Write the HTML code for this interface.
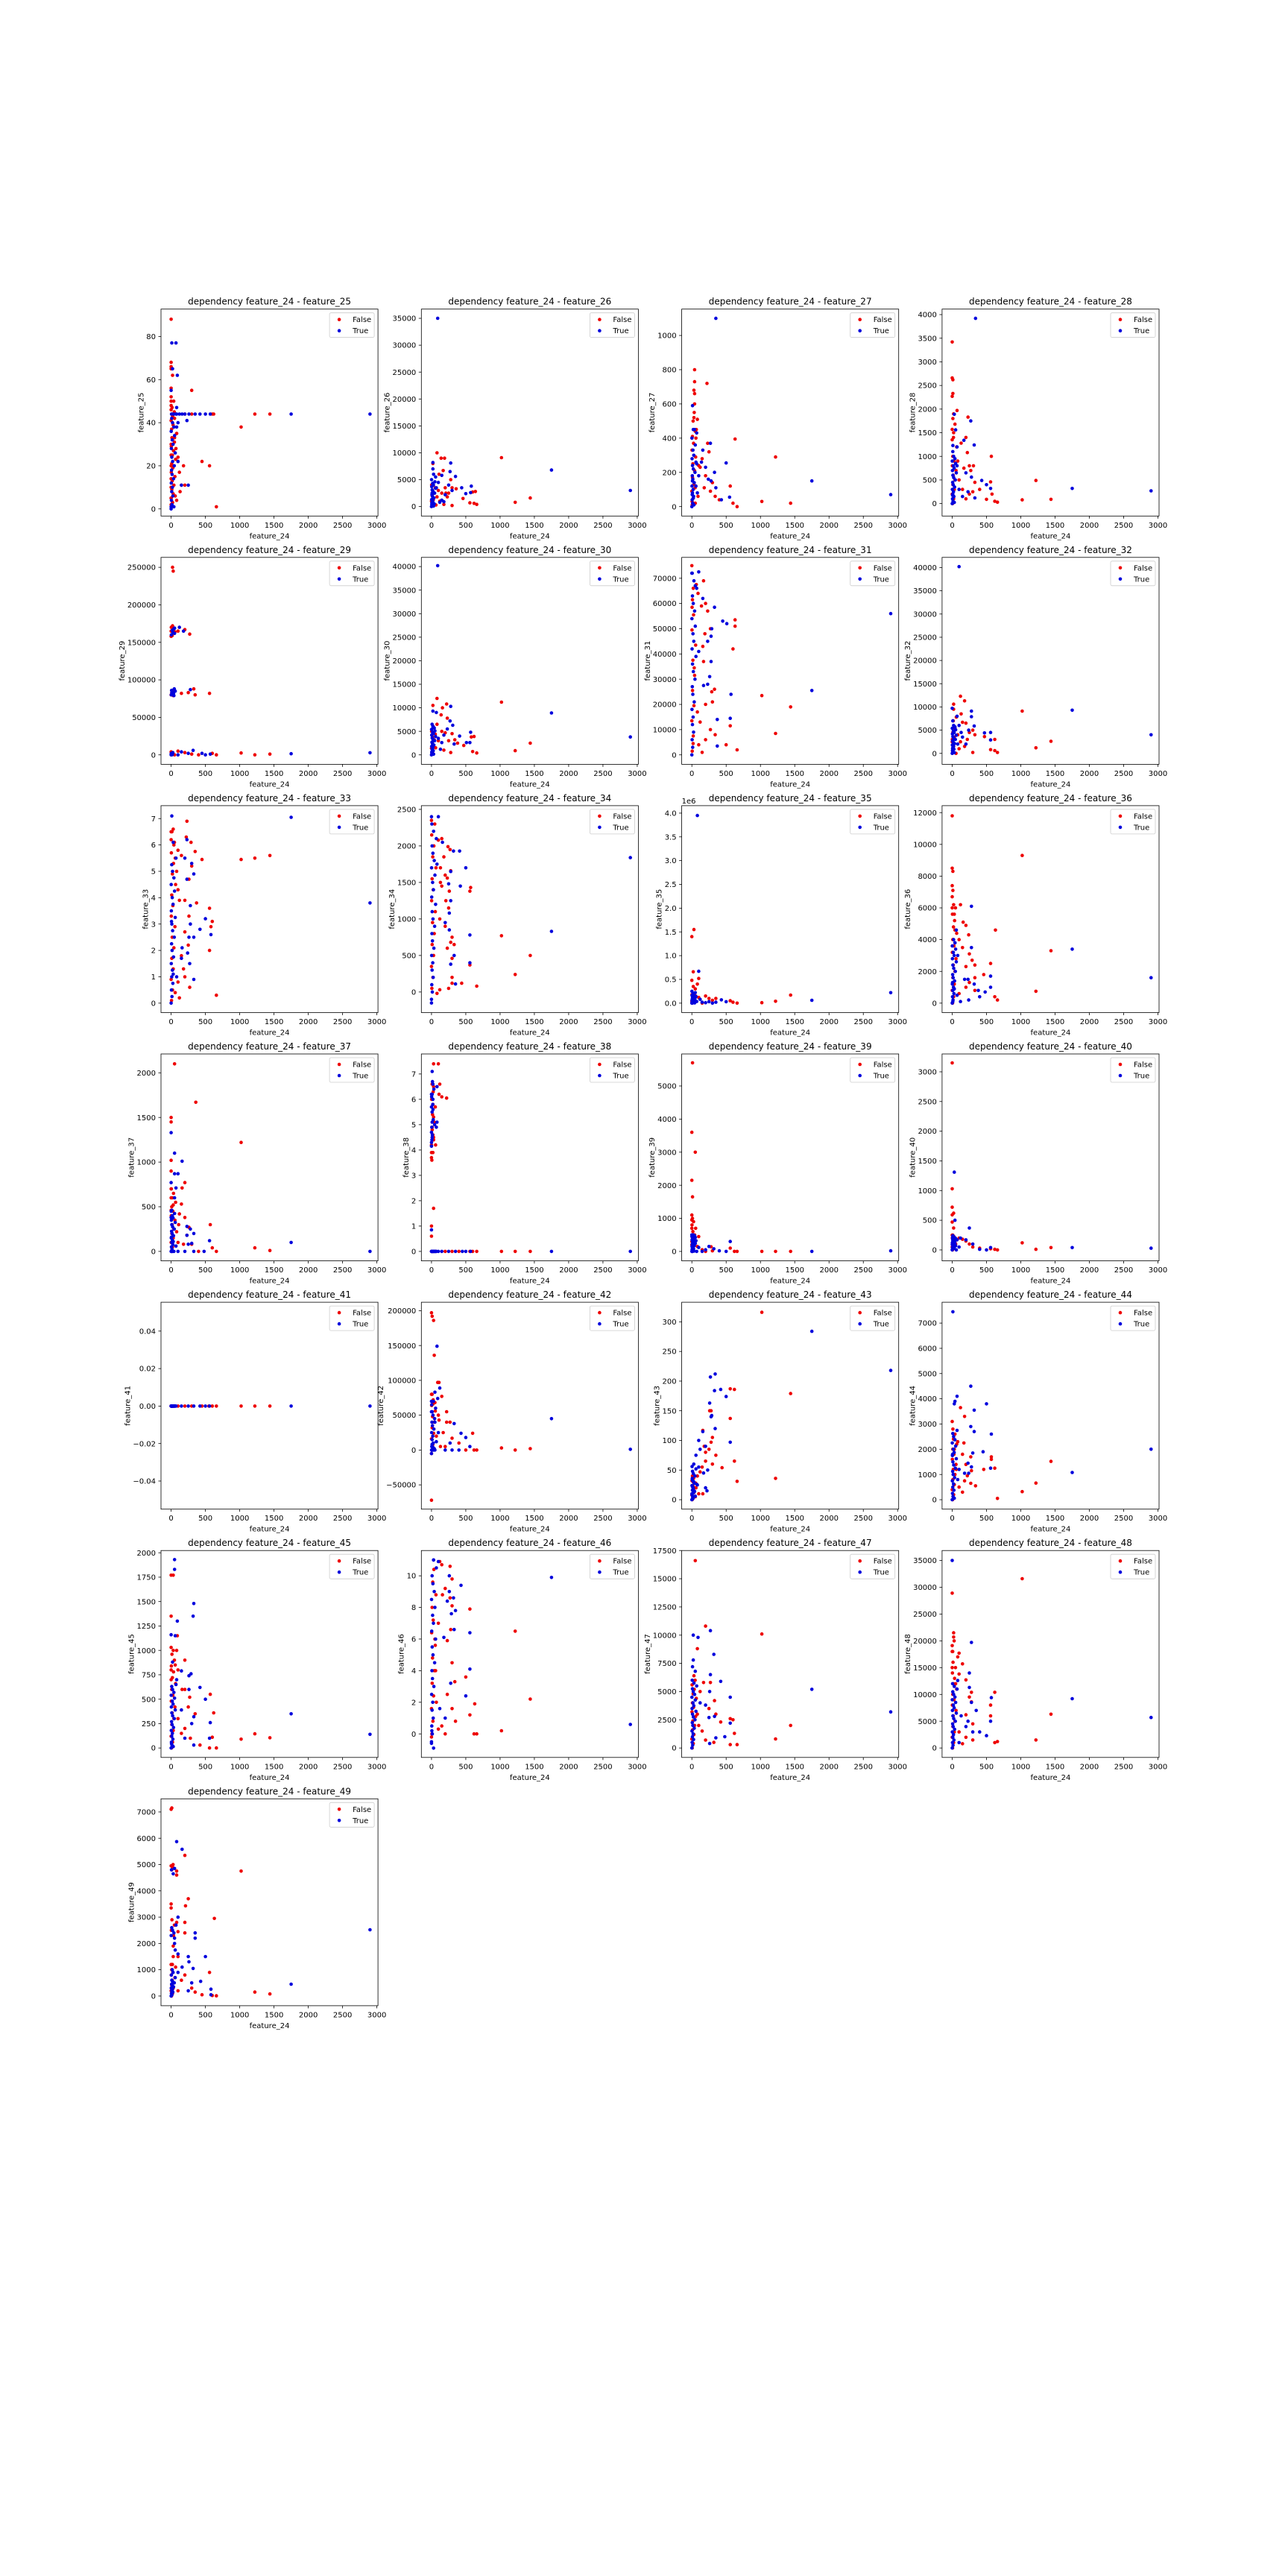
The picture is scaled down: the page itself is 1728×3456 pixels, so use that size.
<!DOCTYPE html>
<html><head><meta charset="utf-8"><title>dependency plots</title>
<style>html,body{margin:0;padding:0;background:#fff}svg{display:block}text{font-family:"DejaVu Sans","Liberation Sans",sans-serif;fill:#000}</style>
</head><body>
<svg id="fig" xmlns="http://www.w3.org/2000/svg" width="1728" height="3456" viewBox="0 0 1728 3456">
<rect width="1728" height="3456" fill="#fff"/>
</svg>
<script>
// ---- data (x = feature_24, y = feature_N), False = red, True = blue ----
const xTicks=[0,500,1000,1500,2000,2500,3000];
// x values of the dense low-feature_24 column
const colXTrue=[0,12,4,25,8,18,2,35,14,6,45,22,10,60,3,28,16,50,1,40,20,9,70,30,5];
const colXFalse=[5,20,0,30,10,40,15,55,2,25,8,65,18,35,3,48,12,80,7,28,0,22,45,14,38];
const f25False=[[0,88],[0,68],[0,66],[0,65],[0,56],[0,52],[0,50],[0,48],[0,46],[10,44],[200,44],[300,44],[600,44],[620,44],[1220,44],[1440,44],[1020,38],[300,55],[450,22],[560,20],[660,1],[50,42],[80,35],[100,24],[120,17],[150,11],[200,11],[130,8],[80,4],[60,6],[0,30],[0,25],[0,20],[0,14],[0,10],[0,5],[0,2],[20,62],[100,22],[180,20],[50,33],[70,28]];
const f25True=[[10,77],[70,77],[20,65],[90,62],[0,55],[80,47],[350,44],[420,44],[500,44],[570,44],[1750,44],[2900,44],[230,41],[100,40],[80,38],[250,11],[40,1],[0,1],[40,44],[80,44],[120,44],[160,44],[200,44],[260,44],[100,22],[150,11]];
const f25ColF=[1,3,5,7,9,11,13,15,17,19,21,23,25,27,29,31,33,35,37,39,41,43,45,47,50];
const f25ColT=[0,2,4,6,8,10,12,14,16,18,20,22,24,26,28,30,32,34,36,38,40,42,44,44,44];
const f26False=[[80,10000],[140,9000],[190,9000],[1020,9100],[1220,800],[1440,1600],[20,8000],[170,6700],[110,6000],[280,5000],[300,3500],[360,3300],[560,700],[620,600],[660,400],[600,2700],[640,2800],[460,1500],[200,3500],[150,2500],[230,1800],[250,2500],[100,3000],[120,1000],[300,200],[180,400],[210,2500],[80,1800]];
const f26True=[[90,35000],[1750,6800],[2900,3000],[20,8200],[280,8100],[20,7000],[30,6000],[150,5800],[270,6500],[350,5600],[580,3800],[440,3500],[500,2400],[570,2600],[250,4000],[300,3000],[100,4500],[60,5500],[120,800],[150,1200],[200,2200],[180,900]];
const f26ColF=[100,500,1000,1500,2000,2500,3000,3500,4000,1200,2200,300,700];
const f26ColT=[0,200,400,600,800,1000,1300,1600,1900,2200,2500,2800,3100,3400,3700,4000,4300,4600,5000,500,1500,2500,3500,100,700];
const f27False=[[40,800],[40,730],[220,720],[30,680],[40,660],[40,600],[30,520],[80,510],[50,440],[60,400],[630,395],[230,370],[1220,290],[560,120],[1020,30],[1440,20],[660,0],[600,20],[400,40],[300,140],[200,180],[100,240],[150,280],[250,320],[120,230],[180,110],[90,60],[50,20],[270,90],[340,60]];
const f27True=[[350,1100],[1750,150],[2900,70],[10,590],[20,450],[70,430],[270,370],[160,330],[500,255],[330,200],[350,110],[430,40],[550,55],[240,160],[100,180],[60,120],[80,80],[140,260],[200,230],[280,150]];
const f27ColF=[10,50,90,130,170,210,250,290,330,370,410,450,500,550,30,110];
const f27ColT=[0,20,40,60,80,100,120,140,160,180,200,220,240,260,280,300,330,360,400,450,50,150,250,10,70];
const f28False=[[0,3420],[0,2660],[10,2620],[10,2330],[0,2270],[70,1970],[20,1900],[10,1800],[230,1830],[40,1680],[0,1570],[20,1500],[200,1400],[0,1350],[130,1280],[220,1080],[570,1000],[250,800],[270,700],[310,800],[330,450],[560,460],[580,200],[1220,490],[1020,80],[1440,90],[660,30],[620,50],[500,90],[300,250],[150,300],[200,100],[100,500],[80,900],[250,200],[400,300],[170,750]];
const f28True=[[340,3920],[30,1890],[270,1750],[50,1560],[170,1340],[320,1240],[10,1230],[70,800],[200,650],[280,560],[430,490],[500,400],[560,320],[1750,320],[2900,270],[330,120],[100,300],[150,150],[230,250]];
const f28ColF=[0,100,200,300,400,500,600,700,800,900,1000,1200,1400];
const f28ColT=[0,50,100,150,200,250,300,350,400,450,500,550,600,650,700,750,800,850,900,950,1000,1100,1200,25,175];
const f29False=[[20,250000],[30,245000],[20,172000],[0,165000],[100,165000],[200,167000],[270,161000],[0,158000],[0,80000],[20,85000],[150,82000],[250,83000],[330,88000],[350,80000],[560,82000],[1020,2500],[1220,0],[1440,1000],[660,0],[600,2000],[300,1000],[200,3000],[100,5000],[50,0],[400,0]];
const f29True=[[40,168000],[120,170000],[180,165000],[50,162000],[280,87000],[1750,1500],[2900,2800],[320,6000],[150,4000],[500,0],[450,2000],[570,1000],[100,0],[250,2000]];
const f29ColF=[0,2000,4000,79000,83000,87000,159000,164000,170000];
const f29ColT=[0,1000,2000,3000,0,500,80000,82000,84000,86000,88000,81000,83000,85000,160000,163000,166000,169000,1500,79000];
const f30False=[[80,12000],[20,10500],[220,10800],[160,10000],[1020,11200],[140,8500],[230,7800],[1440,2500],[1220,900],[600,700],[660,400],[620,3900],[580,3800],[470,2000],[300,4500],[340,3200],[250,3000],[200,4700],[150,5000],[100,3000],[60,1500],[280,500],[180,1000],[380,2500],[80,6500]];
const f30True=[[90,40200],[1750,8900],[2900,3800],[20,9300],[280,10300],[270,7200],[310,6300],[230,5500],[180,4200],[410,4000],[570,4800],[560,2600],[510,2600],[330,2300],[100,3500],[130,1200],[150,2600]];
const f30ColF=[200,800,1400,2000,2600,3200,3800,4400,5000,6000];
const f30ColT=[0,300,600,900,1200,1500,1800,2100,2400,2700,3000,3300,3600,3900,4200,4500,4800,5100,5400,5700,6000,6500,9000,150,450];
const f31False=[[0,75000],[170,69000],[20,66000],[90,64000],[140,59000],[200,60000],[230,57000],[630,53500],[630,51000],[270,50000],[190,48000],[600,42000],[160,43000],[170,37000],[330,26000],[290,25000],[1020,23500],[1440,19000],[300,21000],[200,20000],[1220,8500],[560,11500],[660,2000],[500,4000],[340,8000],[270,10000],[120,13000],[80,17000],[100,4000],[150,1000],[200,6000]];
const f31True=[[0,72000],[100,72500],[50,67000],[160,62000],[330,58500],[450,53000],[510,52000],[290,50000],[280,47000],[230,45000],[100,41000],[280,37000],[260,31000],[230,28000],[170,27500],[570,24000],[1750,25500],[2900,56000],[370,14000],[560,14500],[370,3500]];
const f31ColF=[1500,7500,13500,19500,25500,31500,37500,43500,49500,55500,61500,67500,4500,34500,58500];
const f31ColT=[0,3000,6000,9000,12000,15000,18000,21000,24000,27000,30000,33000,36000,39000,42000,45000,48000,51000,54000,57000,60000,63000,66000,69000,72000];
const f32False=[[120,12300],[180,11300],[20,10600],[20,9500],[1020,9100],[130,8500],[60,7800],[150,6700],[200,6500],[300,5000],[250,4500],[330,4000],[470,3600],[620,3000],[1440,2600],[1220,1200],[560,800],[620,600],[660,200],[300,200],[180,1500],[120,2500],[80,4000],[100,1000],[220,3000]];
const f32True=[[100,40200],[1750,9300],[2900,4000],[0,9700],[280,9100],[280,7900],[320,5900],[240,5000],[470,4400],[560,4500],[560,2900],[100,6000],[150,3500],[200,2000],[80,2000],[130,4500]];
const f32ColF=[500,1500,2500,3500,4500,5500,7000,0,3000];
const f32ColT=[0,300,600,900,1200,1500,1800,2100,2400,2700,3000,3300,3600,3900,4200,4500,4800,5100,5400,5700,6000,7000,8000,150,1000];
const f33False=[[0,6.5],[30,6.6],[230,6.9],[0,6.2],[40,6.0],[100,5.8],[220,6.3],[290,6.1],[150,5.6],[60,5.5],[450,5.45],[1020,5.45],[1220,5.5],[1440,5.6],[300,5.2],[350,5.75],[260,4.7],[80,5.0],[100,4.3],[120,3.9],[200,3.9],[370,3.8],[560,3.6],[600,3.1],[580,2.9],[260,3.3],[200,2.7],[250,2.2],[560,2.0],[150,1.8],[180,1.3],[200,1.0],[100,0.8],[270,0.6],[120,0.2],[660,0.3],[60,0.4]];
const f33True=[[10,7.1],[1750,7.05],[2900,3.8],[230,6.2],[30,6.1],[200,5.5],[300,5.3],[330,4.9],[230,4.7],[280,3.7],[500,3.2],[280,3.0],[420,2.8],[580,2.6],[330,2.5],[260,2.5],[160,2.1],[240,1.9],[150,1.7],[270,1.5],[330,0.9],[80,1.0]];
const f33ColF=[0.1,0.5,0.9,1.3,1.7,2.1,2.5,2.9,3.3,3.7,4.1,4.5,4.9,5.3,5.7,6.1,6.5];
const f33ColT=[0,0.25,0.5,0.75,1,1.25,1.5,1.75,2,2.25,2.5,2.75,3,3.25,3.5,3.75,4,4.25,4.5,4.75,5,5.25,5.5,1.1,3.1];
const f34False=[[0,2350],[150,2100],[100,2080],[240,1990],[270,1950],[180,1850],[130,1700],[280,1660],[200,1600],[230,1560],[130,1500],[150,1450],[570,1430],[560,1380],[260,1380],[210,1250],[250,1150],[120,1000],[200,900],[300,750],[1020,770],[280,680],[330,650],[230,600],[1440,500],[300,460],[560,370],[1220,240],[300,200],[440,120],[660,80],[300,120],[250,50],[120,30],[80,-20]];
const f34True=[[0,2400],[100,2400],[160,2050],[320,1930],[410,1930],[2900,1840],[500,1700],[280,1650],[250,1480],[420,1450],[280,1250],[260,1080],[200,950],[260,850],[560,780],[1750,830],[330,500],[280,380],[560,400],[350,110],[0,-150],[80,1750]];
const f34ColF=[50,200,350,500,650,800,950,1100,1250,1400,1550,1700,1850,2000,2150,2300];
const f34ColT=[-100,0,100,200,300,400,500,600,700,800,900,1000,1100,1200,1300,1400,1500,1600,1700,1800,1900,2000,2100,2200,2300];
const f35False=[[30,1.55e6],[0,1.4e6],[20,0.66e6],[100,0.52e6],[80,0.4e6],[0,0.48e6],[20,0.35e6],[50,0.3e6],[200,0.15e6],[250,0.1e6],[300,0.06e6],[350,0.1e6],[560,0.05e6],[600,0.02e6],[660,0],[1020,0.01e6],[1220,0.04e6],[1440,0.17e6],[150,0],[100,0.12e6]];
const f35True=[[80,3.95e6],[100,0.67e6],[150,0.02e6],[200,0.01e6],[250,0.03e6],[300,0],[430,0.07e6],[500,0.03e6],[1750,0.06e6],[2900,0.22e6],[350,0.02e6],[120,0.08e6]];
const f35ColF=[0,20000,40000,60000,80000,100000,120000,150000,180000,200000];
const f35ColT=[0,10000,20000,30000,40000,50000,60000,70000,80000,90000,100000,110000,120000,140000,160000,180000,200000,220000,250000,5000,15000,25000,35000,45000,0];
const f36False=[[0,11800],[1020,9300],[0,8500],[10,8300],[0,7400],[10,7100],[0,6700],[20,6200],[0,6000],[120,6200],[30,5600],[160,5100],[200,4900],[40,4600],[630,4600],[240,4300],[100,4000],[150,3500],[250,3100],[290,2700],[1440,3300],[330,2400],[200,2300],[560,2500],[460,1800],[330,1600],[250,1300],[200,1000],[1220,750],[620,400],[660,200],[330,800],[100,600]];
const f36True=[[280,6100],[60,4600],[40,3800],[280,3500],[80,3000],[1750,3400],[560,1700],[2900,1600],[230,1500],[180,1500],[320,1200],[560,1000],[480,700],[380,800],[400,400],[240,200],[120,100]];
const f36ColF=[0,400,800,1200,1600,2000,2400,2800,3200,3600,4000,4400,4800,5200,5600,6000];
const f36ColT=[0,200,400,600,800,1000,1200,1400,1600,1800,2000,2200,2400,2600,2800,3000,3200,3400,3600,3800,4000,100,500,900,1300];
const f37False=[[50,2100],[360,1670],[0,1500],[0,1450],[1020,1220],[0,1020],[0,900],[200,770],[160,710],[0,700],[0,600],[30,520],[150,530],[0,460],[120,420],[200,380],[110,300],[570,300],[260,270],[80,220],[230,180],[300,80],[1220,40],[1440,10],[600,40],[660,0],[180,80],[100,100],[400,0]];
const f37True=[[0,1330],[50,1100],[160,1010],[50,870],[100,870],[0,770],[70,710],[50,600],[10,460],[0,380],[230,280],[280,250],[330,200],[230,180],[560,120],[1750,100],[300,90],[250,80],[2900,0],[480,0],[330,0],[200,0],[100,0]];
const f37ColF=[0,50,100,150,200,250,300,350,400,450,500,550,600,650,700];
const f37ColT=[0,25,50,75,100,125,150,175,200,225,250,275,300,325,350,375,400,425,450,0,0,0,60,110,160];
const f38False=[[30,7.4],[100,7.4],[120,6.6],[110,6.2],[150,6.1],[220,6.05],[30,6.5],[20,5.8],[30,5.3],[10,4.9],[20,4.6],[30,4.4],[60,4.2],[0,3.9],[0,3.7],[30,1.7],[0,1.0],[0,0.6],[0,0],[200,0],[300,0],[600,0],[660,0],[1020,0],[1220,0],[1440,0],[560,0],[400,0]];
const f38True=[[10,7.1],[20,6.6],[80,6.5],[0,6.2],[20,6.0],[0,5.7],[10,5.1],[80,5.1],[70,4.9],[0,4.7],[10,4.5],[0,4.15],[0,0.85],[0,0],[50,0],[100,0],[150,0],[250,0],[350,0],[450,0],[500,0],[570,0],[1750,0],[2900,0]];
const f38ColF=[3.6,3.9,4.2,4.5,4.8,5.1,5.4,5.7,6.0,6.3,6.6,0,0,0];
const f38ColT=[4.3,4.6,4.9,5.2,5.5,5.8,6.1,6.4,6.7,4.4,5.0,5.6,6.2,0,0,0,0,0,0,0,0,0,0,0,0];
const f39False=[[10,5700],[0,3600],[50,3000],[0,2150],[10,1650],[0,1100],[0,950],[0,700],[100,450],[0,300],[280,140],[560,100],[660,0],[1020,0],[1220,0],[1440,0],[150,50],[80,150],[300,20],[620,0],[200,0]];
const f39True=[[0,500],[50,240],[100,120],[560,300],[250,150],[320,80],[400,20],[500,0],[1750,0],[2900,20],[150,0],[200,50]];
const f39ColF=[0,100,200,300,400,500,600,700,800,900,1000];
const f39ColT=[0,25,50,75,100,125,150,175,200,225,250,275,300,325,350,375,400,425,450,475,500,0,0,10,60];
const f40False=[[0,3150],[0,1030],[0,720],[20,620],[0,590],[0,470],[20,370],[0,250],[150,180],[200,150],[250,100],[300,50],[1020,120],[1220,10],[1440,40],[560,20],[620,10],[660,0],[400,30],[100,200],[50,100]];
const f40True=[[30,1310],[40,500],[250,370],[120,200],[200,170],[100,50],[300,100],[500,0],[560,40],[1750,40],[2900,30],[400,10]];
const f40ColF=[0,25,50,75,100,125,150,175,200,225,250];
const f40ColT=[0,20,40,60,80,100,120,140,160,180,200,220,240,0,10,30,50,70,90,110,130,150,170,190,210];
const f41False=[[0,0],[100,0],[200,0],[300,0],[450,0],[550,0],[600,0],[660,0],[1020,0],[1220,0],[1440,0]];
const f41True=[[0,0],[50,0],[150,0],[250,0],[330,0],[420,0],[500,0],[560,0],[1750,0],[2900,0]];
const f41ColF=[0,0,0,0,0,0,0,0,0,0];
const f41ColT=[0,0,0,0,0,0,0,0,0,0,0,0,0,0,0,0,0,0,0,0,0,0,0,0,0];
const f42False=[[0,197000],[10,192000],[30,186000],[40,136000],[90,97000],[110,97000],[0,80000],[150,77000],[50,68000],[20,66000],[220,55000],[100,50000],[110,43000],[220,40000],[270,40000],[170,25000],[300,17000],[600,24000],[1020,3000],[1220,0],[1440,2000],[620,0],[660,0],[500,0],[0,-72000],[0,-5000],[200,5000],[400,10000],[130,5000],[70,20000]];
const f42True=[[80,149000],[120,89000],[50,83000],[90,74000],[0,70000],[0,55000],[50,40000],[100,25000],[330,38000],[270,10000],[500,18000],[430,24000],[560,5000],[1750,45000],[2900,1000],[200,0],[300,0],[400,0]];
const f42ColF=[0,8000,16000,24000,32000,40000,48000,56000,64000,72000,80000];
const f42ColT=[-5000,0,5000,10000,15000,20000,25000,30000,35000,40000,45000,50000,55000,60000,65000,70000,0,0,0,2000,4000,8000,12000,0,0];
const f43False=[[1020,316],[1440,179],[560,187],[620,186],[280,150],[260,150],[560,137],[160,117],[300,105],[280,97],[180,90],[350,75],[200,65],[620,65],[150,55],[300,60],[440,54],[120,47],[1220,36],[660,31],[160,10],[100,10],[60,20],[20,30],[50,5],[80,40],[200,80],[250,85]];
const f43True=[[1750,284],[2900,218],[340,212],[270,207],[420,186],[330,184],[500,174],[260,163],[290,142],[280,140],[340,120],[160,115],[560,97],[100,100],[120,85],[60,75],[200,90],[100,55],[170,45],[230,50],[200,20],[220,15],[80,25]];
const f43ColF=[0,4,8,12,16,20,24,28,32,36,40];
const f43ColT=[0,4,8,12,16,20,24,28,32,36,40,44,48,52,56,60,2,6,10,14,18,22,26,30,34];
const f44False=[[0,3100],[10,2800],[120,3650],[180,3300],[40,2600],[80,2300],[170,2250],[30,2000],[150,1800],[270,1700],[570,1700],[570,1600],[200,1400],[280,1150],[460,1200],[620,1250],[1440,1520],[1220,660],[1020,320],[660,50],[340,550],[270,650],[180,750],[100,500],[150,300],[60,1200],[220,950]];
const f44True=[[10,7450],[270,4500],[70,4100],[40,3900],[30,3800],[500,3800],[320,3550],[270,2900],[320,2700],[570,2600],[450,1900],[300,1850],[230,1450],[280,1300],[1750,1080],[2900,2000],[560,1250],[240,1050],[180,1050],[80,800],[100,1200]];
const f44ColF=[0,200,400,600,800,1000,1200,1400,1600,1800,2000,2200,2400];
const f44ColT=[0,125,250,375,500,625,750,875,1000,1125,1250,1375,1500,1625,1750,1875,2000,2125,2250,2375,2500,2625,2750,60,1800];
const f45False=[[0,1770],[30,1770],[0,1350],[90,1150],[0,1030],[30,1000],[200,900],[60,850],[0,800],[100,800],[0,700],[160,600],[200,600],[270,520],[570,550],[620,360],[250,420],[350,350],[1220,145],[1020,90],[1440,105],[600,110],[560,0],[660,0],[420,30],[150,150],[100,300],[200,200],[280,100]];
const f45True=[[50,1930],[50,1830],[330,1480],[320,1350],[90,1300],[0,1160],[60,1150],[20,880],[150,790],[260,740],[290,760],[80,700],[420,620],[260,600],[500,500],[150,390],[330,320],[1750,350],[2900,140],[570,260],[300,250],[200,100],[560,100],[330,30]];
const f45ColF=[0,60,120,180,240,300,360,420,480,540,600,660,720,780,840,900,960,1000];
const f45ColT=[0,30,60,90,120,150,180,210,240,270,300,330,360,390,420,450,480,510,540,570,600,630,650,15,45];
const f46False=[[120,10.9],[150,10.7],[270,10.6],[300,9.8],[200,9.2],[160,8.8],[300,8.1],[560,7.9],[270,8.6],[100,7.0],[280,6.6],[1220,6.5],[230,5.9],[300,4.5],[500,3.6],[340,3.3],[230,2.5],[1440,2.2],[630,1.9],[300,1.6],[560,1.2],[350,0.8],[150,0.5],[200,0.0],[620,0.0],[660,0.0],[1020,0.2],[100,0.3],[0,-0.2],[70,2],[60,4],[50,6]];
const f46True=[[30,11],[100,10.9],[260,10],[1750,9.9],[430,9.4],[260,9.0],[320,8.6],[230,8.4],[350,7.8],[290,7.6],[330,6.6],[560,6.4],[180,6.1],[560,4.1],[280,3.2],[500,2.4],[120,1.6],[200,1.0],[2900,0.6],[0,-0.6],[30,-0.9]];
const f46ColF=[0,0.8,1.6,2.4,3.2,4.0,4.8,5.6,6.4,7.2,8.0,8.8,9.6,10.4];
const f46ColT=[-0.5,0,0.5,1,1.5,2,2.5,3,3.5,4,4.5,5,5.5,6,6.5,7,7.5,8,8.5,9,9.5,10,10.5,11,0.2];
const f47False=[[50,16600],[200,10800],[1020,10100],[80,8800],[30,6400],[170,5800],[270,5800],[120,5000],[330,4200],[250,3500],[350,3000],[600,2500],[560,2600],[420,2300],[1440,2000],[620,1300],[1220,800],[560,300],[660,300],[320,500],[100,2000],[150,1500],[200,700],[80,3000]];
const f47True=[[20,10000],[270,10400],[90,9800],[320,8300],[20,7800],[10,7200],[50,6800],[270,6500],[420,5900],[1750,5200],[2900,3200],[260,5000],[560,4500],[120,4000],[200,3800],[330,2800],[250,2700],[560,2200],[480,1000],[350,900],[260,400]];
const f47ColF=[0,400,800,1200,1600,2000,2400,2800,3200,3600,4000,4400,4800,5200,5600,6000];
const f47ColT=[0,250,500,750,1000,1250,1500,1750,2000,2250,2500,2750,3000,3250,3500,3750,4000,4250,4500,4750,5000,5250,5500,5750,6000];
const f48False=[[1020,31600],[0,28900],[20,21500],[20,20700],[0,19100],[0,18000],[100,17700],[150,15700],[0,15000],[100,13800],[200,12700],[280,10400],[250,9500],[560,8000],[620,10400],[280,8600],[560,6000],[1440,6300],[200,6200],[300,4500],[1220,1500],[620,1000],[660,1200],[200,2000],[300,1500],[100,3000],[150,800],[50,12000]];
const f48True=[[0,35000],[280,19700],[250,14000],[80,12600],[250,11300],[570,9400],[1750,9200],[280,8500],[560,5000],[2900,5700],[350,7000],[130,6000],[230,5000],[300,3000],[400,3000],[500,2300],[200,4000],[100,1000]];
const f48ColF=[0,1000,2000,3000,4000,5000,6000,7000,8000,9000,10000,11000,12000,13000,14000,15000,16000,17000,18000,20000];
const f48ColT=[0,500,1000,1500,2000,2500,3000,3500,4000,4500,5000,5500,6000,6500,7000,7500,8000,8500,9000,9500,10000,10500,11000,11500,12000];
const f49False=[[0,7100],[10,7150],[200,5350],[0,4950],[20,4900],[80,4750],[1020,4750],[250,3700],[0,3500],[0,3350],[210,3430],[630,2950],[200,2800],[80,2800],[200,2400],[100,2450],[30,1900],[30,1500],[100,1500],[0,1200],[560,900],[200,800],[150,600],[1220,150],[1440,80],[450,50],[600,20],[660,10],[300,300],[350,150],[100,200]];
const f49True=[[80,5870],[160,5580],[50,4850],[100,3000],[350,2400],[350,2200],[2900,2520],[50,2000],[60,1750],[100,1600],[250,1500],[500,1500],[260,1300],[320,1050],[160,1100],[1750,450],[430,560],[580,260],[580,50],[300,500],[250,200],[100,900]];
const f49ColF=[0,100,200,300,400,500,600,700,800,900,1000,1100,1200,2300,2500,2700,2900,4600,4800,5000];
const f49ColT=[0,50,100,150,200,250,300,350,400,450,500,550,600,700,800,900,1000,2200,2300,2400,2500,2600,2700,4650,4800];

// ---- per-plot y-axis config ----
const plots=[
{f:25,yl:[-3.3,92.7],yt:[0,20,40,60,80],d:0,F:f25False,T:f25True,CF:f25ColF,CT:f25ColT},
{f:26,yl:[-1755,36710],yt:[0,5000,10000,15000,20000,25000,30000,35000],d:0,F:f26False,T:f26True,CF:f26ColF,CT:f26ColT},
{f:27,yl:[-55,1154],yt:[0,200,400,600,800,1000],d:0,F:f27False,T:f27True,CF:f27ColF,CT:f27ColT},
{f:28,yl:[-263,4116],yt:[0,500,1000,1500,2000,2500,3000,3500,4000],d:0,F:f28False,T:f28True,CF:f28ColF,CT:f28ColT},
{f:29,yl:[-12580,263245],yt:[0,50000,100000,150000,200000,250000],d:0,F:f29False,T:f29True,CF:f29ColF,CT:f29ColT},
{f:30,yl:[-2005,41953],yt:[0,5000,10000,15000,20000,25000,30000,35000,40000],d:0,F:f30False,T:f30True,CF:f30ColF,CT:f30ColT},
{f:31,yl:[-3741,78270],yt:[0,10000,20000,30000,40000,50000,60000,70000],d:0,F:f31False,T:f31True,CF:f31ColF,CT:f31ColT},
{f:32,yl:[-2353,42193],yt:[0,5000,10000,15000,20000,25000,30000,35000,40000],d:0,F:f32False,T:f32True,CF:f32ColF,CT:f32ColT},
{f:33,yl:[-0.358,7.49],yt:[0,1,2,3,4,5,6,7],d:0,F:f33False,T:f33True,CF:f33ColF,CT:f33ColT},
{f:34,yl:[-282,2551],yt:[0,500,1000,1500,2000,2500],d:0,F:f34False,T:f34True,CF:f34ColF,CT:f34ColT},
{f:35,yl:[-198700,4157000],yt:[0,0.5e6,1e6,1.5e6,2e6,2.5e6,3e6,3.5e6,4e6],d:1,sc:1e6,F:f35False,T:f35True,CF:f35ColF,CT:f35ColT},
{f:36,yl:[-595,12438],yt:[0,2000,4000,6000,8000,10000,12000],d:0,F:f36False,T:f36True,CF:f36ColF,CT:f36ColT},
{f:37,yl:[-106,2211],yt:[0,500,1000,1500,2000],d:0,F:f37False,T:f37True,CF:f37ColF,CT:f37ColT},
{f:38,yl:[-0.373,7.79],yt:[0,1,2,3,4,5,6,7],d:0,F:f38False,T:f38True,CF:f38ColF,CT:f38ColT},
{f:39,yl:[-285,5968],yt:[0,1000,2000,3000,4000,5000],d:0,F:f39False,T:f39True,CF:f39ColF,CT:f39ColT},
{f:40,yl:[-184,3301],yt:[0,500,1000,1500,2000,2500,3000],d:0,F:f40False,T:f40True,CF:f40ColF,CT:f40ColT},
{f:41,yl:[-0.055,0.0554],yt:[-0.04,-0.02,0,0.02,0.04],d:2,F:f41False,T:f41True,CF:f41ColF,CT:f41ColT},
{f:42,yl:[-84850,212120],yt:[-50000,0,50000,100000,150000,200000],d:0,F:f42False,T:f42True,CF:f42ColF,CT:f42ColT},
{f:43,yl:[-15.9,333],yt:[0,50,100,150,200,250,300],d:0,F:f43False,T:f43True,CF:f43ColF,CT:f43ColT},
{f:44,yl:[-374,7827],yt:[0,1000,2000,3000,4000,5000,6000,7000],d:0,F:f44False,T:f44True,CF:f44ColF,CT:f44ColT},
{f:45,yl:[-96.7,2023],yt:[0,250,500,750,1000,1250,1500,1750,2000],d:0,F:f45False,T:f45True,CF:f45ColF,CT:f45ColT},
{f:46,yl:[-1.49,11.6],yt:[0,2,4,6,8,10],d:0,F:f46False,T:f46True,CF:f46ColF,CT:f46ColT},
{f:47,yl:[-836,17500],yt:[0,2500,5000,7500,10000,12500,15000,17500],d:0,F:f47False,T:f47True,CF:f47ColF,CT:f47ColT},
{f:48,yl:[-1762,36854],yt:[0,5000,10000,15000,20000,25000,30000,35000],d:0,F:f48False,T:f48True,CF:f48ColF,CT:f48ColT},
{f:49,yl:[-368,7500],yt:[0,1000,2000,3000,4000,5000,6000,7000],d:0,F:f49False,T:f49True,CF:f49ColF,CT:f49ColT}
];

const NS='http://www.w3.org/2000/svg';
const svg=document.getElementById('fig');
const XL=[-148,3016];
const AX_L=216, AX_W=291.1, COL_P=349.3, AX_T=414.7, AX_H=277.6, ROW_P=333.1;
const RED='#ee0000', BLUE='#0000dd';
function mk(tag,attrs,parent,txt){const e=document.createElementNS(NS,tag);for(const k in attrs)e.setAttribute(k,attrs[k]);if(txt!==undefined)e.textContent=txt;parent.appendChild(e);return e;}
function fmt(v,d){let s=Math.abs(v).toFixed(d);if(v<0&&Math.abs(v)>1e-12)s='\u2212'+s;return s;}
function tw(s){let w=0;for(const c of s){w+=c==='.'?3.18:(c==='\u2212'?8.38:6.36);}return w;}

plots.forEach((p,i)=>{
  const r=Math.floor(i/4), c=i%4;
  const L=AX_L+c*COL_P, T=AX_T+r*ROW_P, R=L+AX_W, B=T+AX_H;
  const xs=v=>L+(v-XL[0])/(XL[1]-XL[0])*AX_W;
  const ys=v=>B-(v-p.yl[0])/(p.yl[1]-p.yl[0])*AX_H;
  const g=mk('g',{},svg);
  
  
  const title=mk('text',{x:(L+R)/2,y:T-6,'text-anchor':'middle','font-size':12},g,'dependency feature_24 - feature_'+p.f);
  
  
  const pts=mk('g',{},g);
  
  
  const dot=(x,y,col,nm)=>{const e=mk('circle',{cx:xs(x).toFixed(1),cy:ys(y).toFixed(1),r:2.3,fill:col},pts);
    
    };
  p.F.forEach(q=>dot(q[0],q[1],RED,'point-false'));
  p.CF.forEach((y,k)=>dot(colXFalse[k%colXFalse.length],y,RED,'point-false'));
  p.T.forEach(q=>dot(q[0],q[1],BLUE,'point-true'));
  p.CT.forEach((y,k)=>dot(colXTrue[k%colXTrue.length],y,BLUE,'point-true'));
  const frame=mk('rect',{x:L,y:T,width:AX_W,height:AX_H,fill:'none',stroke:'#000','stroke-width':0.8},g);
  
  
  const xa=mk('g',{},g);
  
  
  xTicks.forEach(t=>{const x=xs(t);mk('line',{x1:x,x2:x,y1:B,y2:B+3.5,stroke:'#000','stroke-width':0.8},xa);
    const lb=mk('text',{x:x,y:B+15.5,'text-anchor':'middle','font-size':10},xa,String(t));
    
    });
  const xt=mk('text',{x:(L+R)/2,y:B+30,'text-anchor':'middle','font-size':10},xa,'feature_24');
  
  
  const ya=mk('g',{},g);
  
  
  let maxw=0;
  p.yt.forEach(t=>{const y=ys(t);mk('line',{x1:L-3.5,x2:L,y1:y,y2:y,stroke:'#000','stroke-width':0.8},ya);
    const s=fmt(p.sc?t/p.sc:t,p.d);maxw=Math.max(maxw,tw(s));
    const lb=mk('text',{x:L-7,y:y+3.6,'text-anchor':'end','font-size':10},ya,s);
    
    });
  if(p.sc){const o=mk('text',{x:L,y:T-3,'font-size':10},ya,'1e6');
    
    }
  const yx=L-7-maxw-4, ymid=(T+B)/2;
  const yt=mk('text',{x:yx,y:ymid,'text-anchor':'middle','font-size':10,transform:'rotate(-90 '+yx+' '+ymid+')'},ya,'feature_'+p.f);
  
  
  const lg=mk('g',{},g);
  
  
  mk('rect',{x:R-65,y:T+5,width:60,height:33,rx:2,fill:'#fff','fill-opacity':0.8,stroke:'#cccccc','stroke-width':0.8},lg);
  mk('circle',{cx:R-52,cy:T+14,r:2.3,fill:RED},lg);
  const l1=mk('text',{x:R-34,y:T+17.5,'font-size':10},lg,'False');
  
  
  mk('circle',{cx:R-52,cy:T+29,r:2.3,fill:BLUE},lg);
  const l2=mk('text',{x:R-34,y:T+32.5,'font-size':10},lg,'True');
  
  
});
</script>
</body></html>
